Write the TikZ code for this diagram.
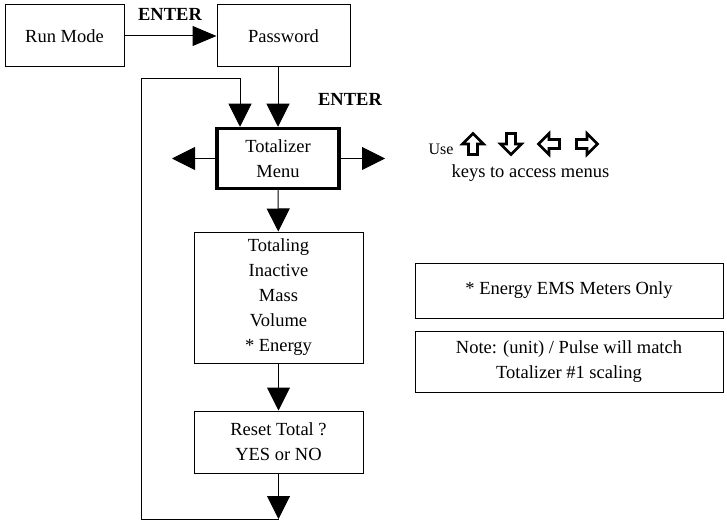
\documentclass[tikz,border=0pt]{standalone}
\usepackage{fontspec}
\setmainfont{Liberation Serif}
\usetikzlibrary{arrows.meta,positioning}

\begin{document}
\begin{tikzpicture}[x=1pt, y=-1pt,
      font=\fontsize{18.5}{25}\selectfont,
      box/.style={draw, line width=1pt, align=center, inner sep=0pt},
      menubox/.style={box, line width=3.5pt},
      label/.style={font=\fontsize{18.5}{25}\selectfont\bfseries},
      keyarrow/.style={draw, line width=2.6pt, line join=miter},
      flow/.style={line width=1pt, -{Triangle[length=23pt,width=23pt]}}]
    \useasboundingbox (0,0) rectangle (727,521);

    \node[box, minimum width=119pt, minimum height=62pt] (run) at (64.5,36) {Run Mode};
    \node[box, minimum width=133pt, minimum height=62pt] (pass) at (283.5,36) {Password};
    \node[menubox, minimum width=122pt, minimum height=60pt] (menu) at (278,158.5) {Totalizer\\Menu};
    \node[box, minimum width=169pt, minimum height=131pt] (mode) at (278.5,297.5)
      {Totaling\\Inactive\\Mass\\Volume\\* Energy};
    \node[box, minimum width=169pt, minimum height=62pt] (reset) at (278.5,442)
      {Reset Total ?\\YES or NO};
    \node[box, minimum width=308pt, minimum height=55pt] (ems) at (569,290.5)
      {* Energy EMS Meters Only};
    \node[box, minimum width=308pt, minimum height=61pt, below=12pt of ems] (note)
      {Note: (unit) / Pulse will match\\Totalizer \#1 scaling};

    \node[label] (enterA) at (170,14) {ENTER};
    \node[label] (enterB) at (350,99) {ENTER};
    \node[anchor=base west, font=\fontsize{16}{20}\selectfont] (use) at (425,155) {Use};
    \node[anchor=base west] (keys) at (448,178) {keys to access menus};

    % up, down, left, right keys
    \foreach \x/\a in {473/0, 511/180, 549/90, 587/-90}
      \draw[keyarrow, shift={(\x,144)}, rotate=\a]
        (0,-10.5) -- (10.5,0) -- (4.5,0) -- (4.5,10.5) -- (-4.5,10.5)
        -- (-4.5,0) -- (-10.5,0) -- cycle;

    \coordinate (leftend) at (172,158.5);
    \coordinate (rightend) at (385,158.5);
    \coordinate (loopend) at (278.5,519);
    \coordinate (loopcorner) at (141,519);
    \coordinate (looptop) at (141,79);

    \draw[flow, -{Triangle[length=24pt,width=20pt]}] (run) -- (pass);
    \draw[flow] (menu.north |- pass.south) -- (menu.north);
    \draw[flow] (menu) -- (leftend);
    \draw[flow] (menu) -- (rightend);
    \draw[flow] (menu) -- (mode);
    \draw[flow] (mode) -- (reset);
    \draw[flow] (reset) -- (loopend);
    \draw[flow] (loopend) -- (loopcorner) -- (looptop) -| ([xshift=-38pt]menu.north);
  \end{tikzpicture}
\end{document}
